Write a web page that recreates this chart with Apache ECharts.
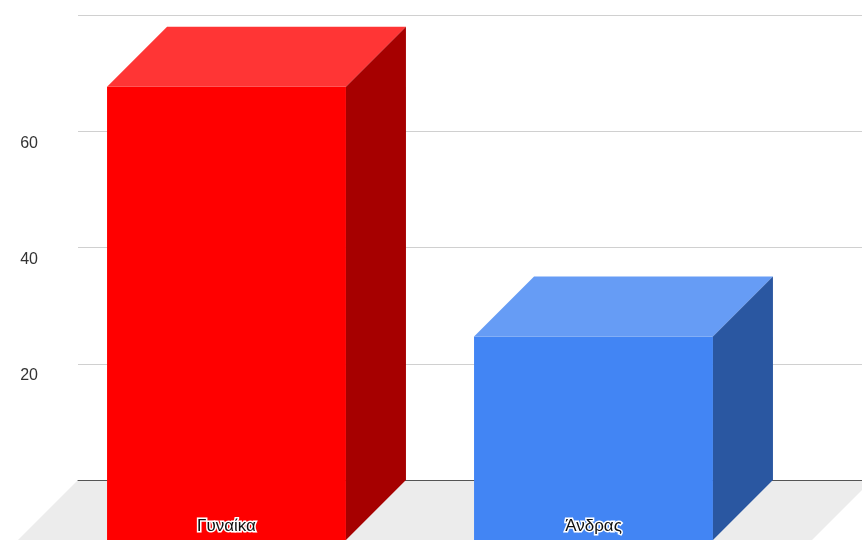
<!DOCTYPE html>
<html>
<head>
<meta charset="utf-8">
<script src="https://cdn.jsdelivr.net/npm/echarts@6/dist/echarts.min.js"></script>
<style>html,body{margin:0;padding:0;background:#fff}#c{width:862px;height:540px}</style>
</head>
<body>
<div id="c"></div>
<script>
const categories = ['Γυναίκα', 'Άνδρας'];
const values = [78, 35];
const frontColors = ['#ff0000', '#4285f4'];
const topColors = ['#ff3535', '#669cf5'];
const sideColors = ['#a60000', '#2a57a1'];
const yTicks = [0, 20, 40, 60, 80];

const chart = echarts.init(document.getElementById('c'), null, {renderer: 'canvas'});
const DEPTH = 60;
const font = 'Arial, "Liberation Sans", sans-serif';

chart.setOption({
  animation: false,
  backgroundColor: '#ffffff',
  graphic: [{
    type: 'polygon', z: -10, silent: true,
    shape: {points: [[78, 480], [872, 480], [812, 540], [18, 540]]},
    style: {fill: '#ececec'}
  }],
  grid: [
    {left: 43, width: 734, top: 75, height: 465},
    {left: 78, right: 0, top: 15, height: 465}
  ],
  xAxis: [
    {gridIndex: 0, type: 'category', data: categories, z: 10,
     axisLine: {show: false}, axisTick: {show: false}, splitLine: {show: false},
     axisLabel: {inside: true, margin: 5, fontSize: 17, fontFamily: font, color: '#111',
       textBorderColor: '#ffffff', textBorderWidth: 3, lineHeight: 17}},
    {gridIndex: 1, type: 'category', data: categories, z: 1,
     axisLine: {show: true, lineStyle: {color: '#555', width: 1}},
     axisTick: {show: false}, axisLabel: {show: false}, splitLine: {show: false}}
  ],
  yAxis: [
    {gridIndex: 0, type: 'value', min: 0, max: 80, interval: 20, show: false},
    {gridIndex: 1, type: 'value', min: yTicks[0], max: yTicks[yTicks.length - 1], interval: 20,
     axisLine: {show: false}, axisTick: {show: false},
     splitLine: {show: true, lineStyle: {color: '#d0d0d0', width: 1}},
     axisLabel: {margin: 40, fontSize: 16, fontFamily: font, color: '#333',
       verticalAlign: 'top', lineHeight: 24,
       formatter: v => (v === yTicks[0] || v === yTicks[yTicks.length - 1]) ? '' : String(v)}}
  ],
  series: [{
    type: 'custom',
    xAxisIndex: 0, yAxisIndex: 0,
    z: 5,
    data: values.map((v, i) => [i, v]),
    renderItem: function (params, api) {
      const idx = api.value(0), v = api.value(1);
      const top = api.coord([idx, v]);
      const bot = api.coord([idx, 0]);
      const bw = api.size([1, 0])[0] * 0.651;
      const x0 = top[0] - bw / 2, x1 = top[0] + bw / 2;
      const d = DEPTH;
      return {
        type: 'group',
        children: [
          {type: 'rect', shape: {x: x0, y: top[1], width: bw, height: bot[1] - top[1]},
           style: {fill: frontColors[idx]}},
          {type: 'polygon', shape: {points: [[x0, top[1]], [x0 + d, top[1] - d], [x1 + d, top[1] - d], [x1, top[1]]]},
           style: {fill: topColors[idx]}},
          {type: 'polygon', shape: {points: [[x1, top[1]], [x1 + d, top[1] - d], [x1 + d, bot[1] - d], [x1, bot[1]]]},
           style: {fill: sideColors[idx]}}
        ]
      };
    }
  }]
});
</script>
</body>
</html>
